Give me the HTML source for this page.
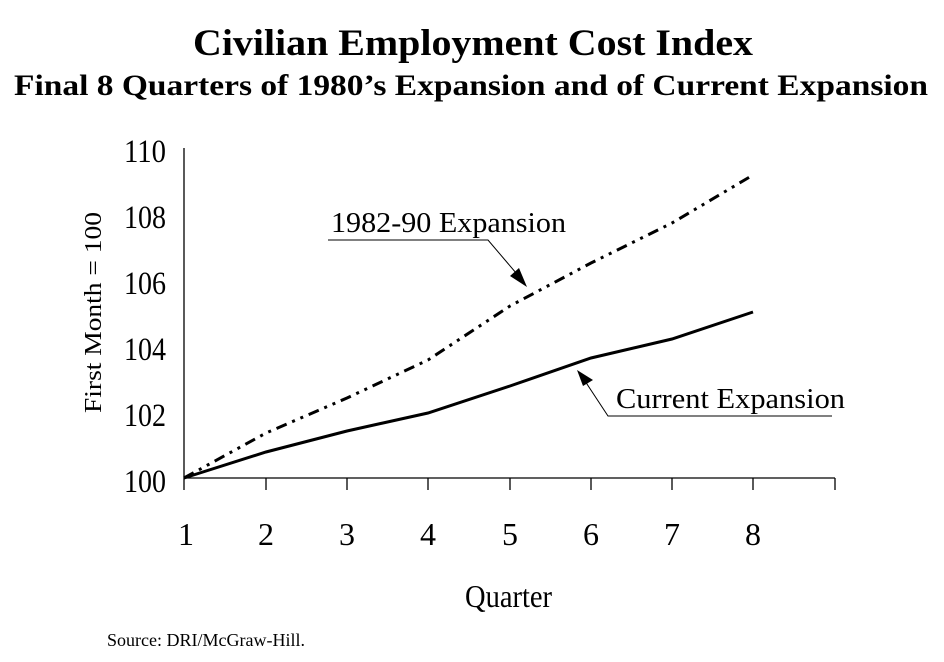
<!DOCTYPE html>
<html><head><meta charset="utf-8"><style>
body{margin:0;background:#fff;width:944px;height:662px;overflow:hidden}
svg{display:block}
text{font-family:"Liberation Serif",serif;fill:#000}
</style></head><body>
<svg width="944" height="662" viewBox="0 0 944 662">
<text x="193" y="55" font-size="37" font-weight="bold" textLength="560" lengthAdjust="spacingAndGlyphs">Civilian Employment Cost Index</text>
<text x="14" y="95" font-size="30" font-weight="bold" textLength="914" lengthAdjust="spacingAndGlyphs">Final 8 Quarters of 1980’s Expansion and of Current Expansion</text>
<g font-size="33">
<text x="124" y="162" textLength="42" lengthAdjust="spacingAndGlyphs">110</text>
<text x="124" y="228" textLength="42" lengthAdjust="spacingAndGlyphs">108</text>
<text x="124" y="294" textLength="42" lengthAdjust="spacingAndGlyphs">106</text>
<text x="124" y="360" textLength="42" lengthAdjust="spacingAndGlyphs">104</text>
<text x="124" y="426" textLength="42" lengthAdjust="spacingAndGlyphs">102</text>
<text x="124" y="492" textLength="42" lengthAdjust="spacingAndGlyphs">100</text>
</g>
<text transform="translate(101,413) rotate(-90)" font-size="24" textLength="201" lengthAdjust="spacingAndGlyphs">First Month = 100</text>
<g stroke="#000" stroke-width="1.3" fill="none">
<line x1="184" y1="148" x2="184" y2="490"/>
<line x1="184" y1="478" x2="835" y2="478"/>
<line x1="266" y1="478" x2="266" y2="490"/><line x1="347" y1="478" x2="347" y2="490"/>
<line x1="428" y1="478" x2="428" y2="490"/><line x1="510" y1="478" x2="510" y2="490"/>
<line x1="591" y1="478" x2="591" y2="490"/><line x1="672" y1="478" x2="672" y2="490"/>
<line x1="753" y1="478" x2="753" y2="490"/><line x1="835" y1="478" x2="835" y2="490"/>
</g>
<g font-size="32" text-anchor="middle">
<text x="186" y="545">1</text><text x="266" y="545">2</text><text x="347" y="545">3</text><text x="428" y="545">4</text>
<text x="510" y="545">5</text><text x="591" y="545">6</text><text x="672" y="545">7</text><text x="753" y="545">8</text>
</g>
<text x="465" y="607" font-size="32" textLength="87" lengthAdjust="spacingAndGlyphs">Quarter</text>
<text x="107" y="646" font-size="18">Source:  DRI/McGraw-Hill.</text>
<polyline fill="none" stroke="#000" stroke-width="3" points="184,478 266,452 347,431 428,413 510,386 591,358 672,339 753,312"/>
<polyline fill="none" stroke="#000" stroke-width="3" stroke-dasharray="11,6,3,6,3,6" points="184,478 266,433 347,398 428,360 510,306 591,263 672,223 753,175"/>
<text x="331" y="232" font-size="28" textLength="235" lengthAdjust="spacingAndGlyphs">1982-90 Expansion</text>
<polyline fill="none" stroke="#000" stroke-width="1" points="328,240 488,240 522,280"/>
<polygon points="527,287 510,276 519,268" fill="#000"/>
<text x="616" y="408" font-size="28" textLength="229" lengthAdjust="spacingAndGlyphs">Current Expansion</text>
<polyline fill="none" stroke="#000" stroke-width="1" points="832,416 608,416 583,378"/>
<polygon points="577,370 593,380 583,386" fill="#000"/>
</svg>
</body></html>
